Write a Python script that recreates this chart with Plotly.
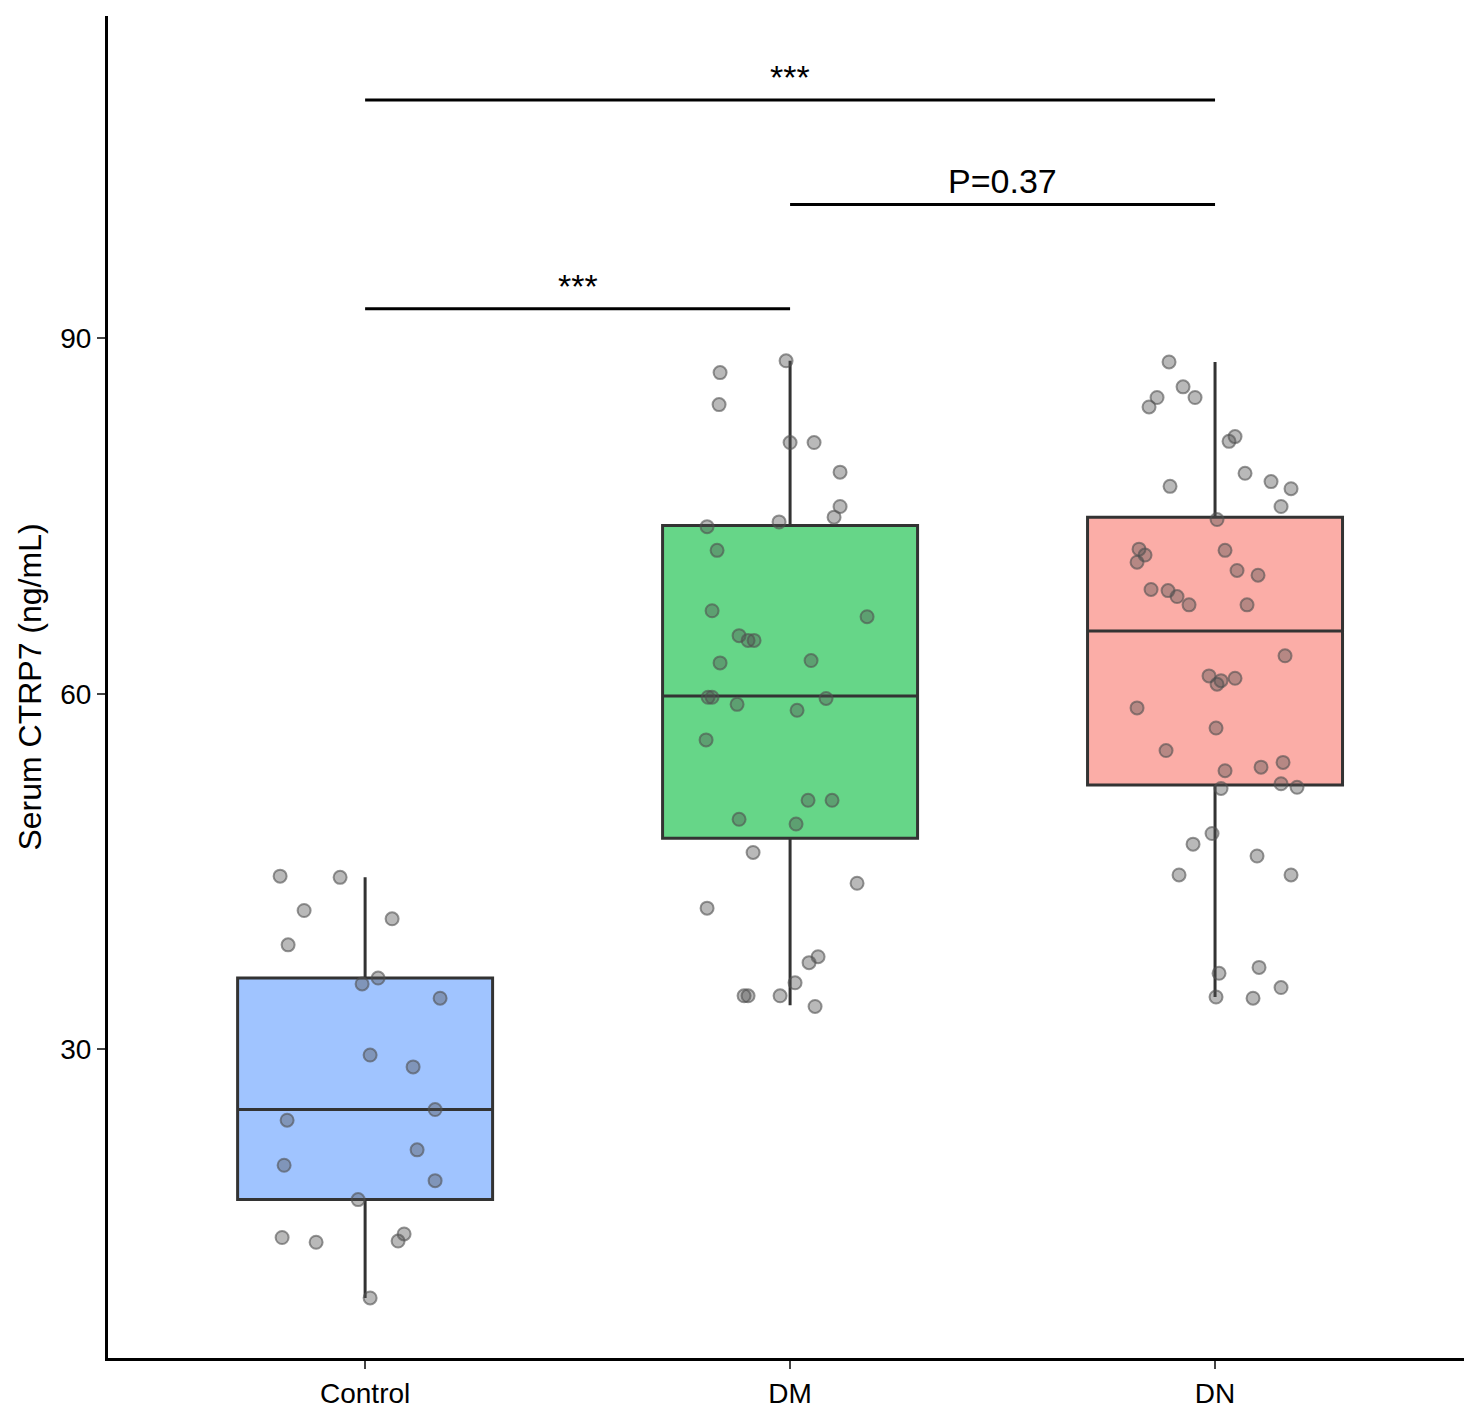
import plotly.graph_objects as go

categories = ['Control', 'DM', 'DN']
fills = ['rgba(97,156,255,0.6)', 'rgba(0,186,56,0.6)', 'rgba(248,118,109,0.6)']

# box stats: lower whisker, q1, median, q3, upper whisker
lower = [9.0, 33.7, 34.4]
q1 = [17.3, 47.8, 52.3]
median = [24.9, 59.8, 65.3]
q3 = [36.0, 74.2, 74.9]
upper = [44.5, 88.1, 88.0]

# jittered points (x pixel offsets in category units, y values)
ctrl_x = [272, 296, 332, 280, 384, 354, 370, 432, 362, 405, 279, 427, 276, 409, 427, 350, 274, 308, 390, 396, 362]
ctrl_y = [44.6, 41.7, 44.5, 38.8, 41.0, 35.5, 36.0, 34.3, 29.5, 28.5, 24.0, 24.9, 20.2, 21.5, 18.9, 17.3, 14.1, 13.7, 13.8, 14.4, 9.0]
dm_x = [712, 711, 778, 782, 806, 832, 832, 826, 771, 699, 709, 704, 731, 740, 746, 712, 803, 859, 700, 704, 729, 789, 818,
        698, 800, 824, 731, 788, 745, 849, 699, 810, 801, 736, 740, 772, 787, 807]
dm_y = [87.1, 84.4, 88.1, 81.2, 81.2, 78.7, 75.8, 74.9, 74.5, 74.1, 72.1, 67.0, 64.9, 64.5, 64.5, 62.6, 62.8, 66.5, 59.7, 59.7, 59.1, 58.6, 59.6,
        56.1, 51.0, 51.0, 49.4, 49.0, 46.6, 44.0, 41.9, 37.8, 37.3, 34.5, 34.5, 34.5, 35.6, 33.6]
dn_x = [1162, 1176, 1188, 1150, 1142, 1228, 1222, 1163, 1238, 1264, 1284, 1274, 1210, 1132, 1138, 1130, 1218, 1161, 1144, 1170, 1182, 1230, 1251, 1240,
        1278, 1202, 1214, 1210, 1228, 1130, 1209, 1159, 1218, 1254, 1276, 1214, 1274, 1290, 1205, 1186, 1250, 1172, 1284, 1212, 1252, 1274, 1209, 1246]
dn_y = [88.0, 85.9, 85.0, 85.0, 84.2, 81.7, 81.3, 77.5, 78.6, 77.9, 77.3, 75.8, 74.7, 72.2, 71.7, 71.1, 72.1, 68.7, 68.8, 68.2, 67.5, 70.4, 70.0, 67.5,
        63.2, 61.5, 61.1, 60.8, 61.3, 58.8, 57.1, 55.2, 53.5, 53.8, 54.2, 52.0, 52.4, 52.1, 48.2, 47.3, 46.3, 44.7, 44.7, 36.4, 36.9, 35.2, 34.4, 34.3]

# significance brackets: (start group, end group, height, label)
brackets = [(0, 2, 110.1, '***'), (1, 2, 101.3, 'P=0.37'), (0, 1, 92.5, '***')]

centers_px = [357, 782, 1208]
px_per_unit = 425.0

fig = go.Figure()
for i, name in enumerate(categories):
    fig.add_trace(go.Box(
        x=[i], q1=[q1[i]], median=[median[i]], q3=[q3[i]],
        lowerfence=[lower[i]], upperfence=[upper[i]],
        width=0.6, whiskerwidth=0, fillcolor=fills[i],
        line=dict(color='#333333', width=3), boxpoints=False,
        showlegend=False, hoverinfo='skip'))

for i, (xs, ys) in enumerate([(ctrl_x, ctrl_y), (dm_x, dm_y), (dn_x, dn_y)]):
    fig.add_trace(go.Scatter(
        x=[i + (p - centers_px[i]) / px_per_unit for p in xs], y=ys, mode='markers',
        marker=dict(size=13, color='rgba(80,80,80,0.4)', line=dict(color='rgba(80,80,80,0.6)', width=2)),
        showlegend=False))

for a, b, h, label in brackets:
    fig.add_trace(go.Scatter(x=[a, b], y=[h, h], mode='lines',
                             line=dict(color='black', width=3), showlegend=False))
    fig.add_annotation(x=(a + b) / 2, y=h, text=label, showarrow=False,
                       yanchor='bottom', yshift=2, font=dict(size=34 if label == '***' else 34, color='black'))

fig.update_layout(
    width=1472, height=1408, plot_bgcolor='white', paper_bgcolor='white',
    margin=dict(l=100, r=7, t=8, b=48),
    font=dict(family='Liberation Sans, Arial', color='black'),
    xaxis=dict(range=[-0.605, 2.607], tickvals=[0, 1, 2], ticktext=categories,
               showline=True, linecolor='black', linewidth=3, showgrid=False, zeroline=False,
               ticks='outside', ticklen=8, tickwidth=2, tickfont=dict(size=28, color='black')),
    yaxis=dict(range=[3.93, 117.2], tickvals=[30, 60, 90],
               showline=True, linecolor='black', linewidth=3, showgrid=False, zeroline=False,
               ticks='outside', ticklen=8, tickwidth=2, tickfont=dict(size=28, color='black'),
               title=dict(text='Serum CTRP7 (ng/mL)', font=dict(size=32, color='black'), standoff=10)),
)

fig.write_html("out.html")
